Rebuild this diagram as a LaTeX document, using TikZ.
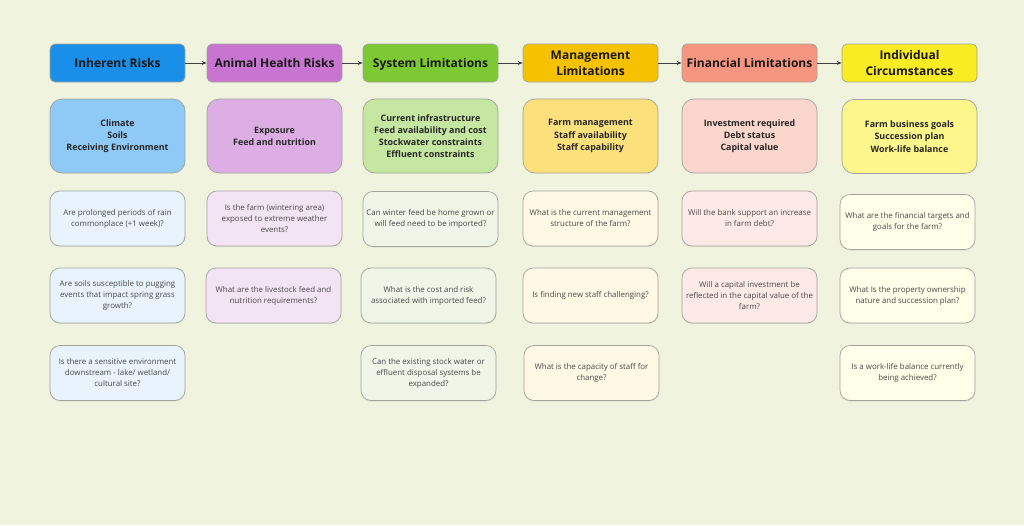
\documentclass[tikz,border=0pt]{standalone}
\usepackage{fontspec}
\setmainfont{Open Sans}
\usetikzlibrary{arrows.meta,shadows}
\definecolor{bg}{HTML}{F0F4DF}
\definecolor{bord}{HTML}{A3A39B}
\definecolor{hA}{HTML}{1A8FEA}
\definecolor{hB}{HTML}{C775D0}
\definecolor{hC}{HTML}{7DC933}
\definecolor{hD}{HTML}{F6C200}
\definecolor{hE}{HTML}{F69680}
\definecolor{hF}{HTML}{FAEC22}
\definecolor{sA}{HTML}{8FC9F6}
\definecolor{sB}{HTML}{DDAEE3}
\definecolor{sC}{HTML}{C6E7A2}
\definecolor{sD}{HTML}{FCE07C}
\definecolor{sE}{HTML}{FBD6CD}
\definecolor{sF}{HTML}{FCF68C}
\definecolor{qA}{HTML}{E8F3FD}
\definecolor{qB}{HTML}{F3E4F5}
\definecolor{qC}{HTML}{EFF6E8}
\definecolor{qD}{HTML}{FEF8E5}
\definecolor{qE}{HTML}{FDEAE6}
\definecolor{qF}{HTML}{FEFEE9}
\definecolor{qtext}{HTML}{4A4A4A}
\tikzset{
  hdr/.style={draw=bord, line width=0.7pt, rounded corners=5pt, minimum width=135pt, minimum height=38pt,
    inner sep=2pt, align=center, font=\fontsize{12}{16}\selectfont\bfseries, text=black!90},
  oneline/.style={text height=8.8pt, text depth=0pt},
  sub/.style={draw=bord, line width=0.7pt, rounded corners=12pt, minimum width=135pt, minimum height=74pt,
    inner sep=2pt, align=center, font=\fontsize{8.9}{12.2}\selectfont\bfseries, text=black!85},
  qbox/.style={draw=bord, line width=0.7pt, rounded corners=10pt, minimum width=135pt, minimum height=55pt,
    inner sep=2pt, align=center, font=\fontsize{7.9}{11}\selectfont, text=qtext,
    drop shadow={shadow xshift=0pt, shadow yshift=-1pt, opacity=0.15}},
  flow/.style={-{Stealth[length=5pt,width=4pt]}, line width=0.8pt, draw=black!75}
}
\begin{document}
\begin{tikzpicture}[x=1pt,y=-1pt]
\fill[bg] (0,0) rectangle (1024,525);
\useasboundingbox (0,0) rectangle (1024,525);
% headers
\node[hdr, oneline, fill=hA] (h1) at (117.5,63) {Inherent Risks};
\node[hdr, oneline, fill=hB] (h2) at (274.5,63) {Animal Health Risks};
\node[hdr, oneline, fill=hC] (h3) at (430.5,63) {System Limitations};
\node[hdr, fill=hD] (h4) at (590.5,63) {Management\\Limitations};
\node[hdr, oneline, fill=hE] (h5) at (749.5,63) {Financial Limitations};
\node[hdr, fill=hF] (h6) at (909.5,63) {Individual\\Circumstances};
\draw[flow] (h1) -- (h2);
\draw[flow] (h2) -- (h3);
\draw[flow] (h3) -- (h4);
\draw[flow] (h4) -- (h5);
\draw[flow] (h5) -- (h6);
% sub boxes
\node[sub, fill=sA] (s1) at (117.5,136) {Climate\\Soils\\Receiving Environment};
\node[sub, fill=sB] (s2) at (274.5,136) {Exposure\\Feed and nutrition};
\node[sub, fill=sC] (s3) at (430.5,136) {Current infrastructure\\Feed availability and cost\\Stockwater constraints\\Effluent constraints};
\node[sub, fill=sD] (s4) at (590.5,136) {Farm management\\Staff availability\\Staff capability};
\node[sub, fill=sE] (s5) at (749.5,136) {Investment required\\Debt status\\Capital value};
\node[sub, fill=sF] (s6) at (909.5,136.5) {Farm business goals\\Succession plan\\Work-life balance};
% questions column 1
\node[qbox, fill=qA] (q11) at (117.5,218.5) {Are prolonged periods of rain\\commonplace (+1 week)?};
\node[qbox, fill=qA] (q12) at (117.5,295.5) {Are soils susceptible to pugging\\events that impact spring grass\\growth?};
\node[qbox, fill=qA] (q13) at (117.5,373) {Is there a sensitive environment\\downstream - lake/ wetland/\\cultural site?};
% column 2
\node[qbox, fill=qB] (q21) at (274.5,218.5) {Is the farm (wintering area)\\exposed to extreme weather\\events?};
\node[qbox, fill=qB] (q22) at (273.5,295.5) {What are the livestock feed and\\nutrition requirements?};
% column 3
\node[qbox, fill=qC] (q31) at (430.5,219) {Can winter feed be home grown or\\will feed need to be imported?};
\node[qbox, fill=qC] (q32) at (428.5,295.5) {What is the cost and risk\\associated with imported feed?};
\node[qbox, fill=qC] (q33) at (428.5,373) {Can the existing stock water or\\effluent disposal systems be\\expanded?};
% column 4
\node[qbox, fill=qD] (q41) at (590.5,218.5) {What is the current management\\structure of the farm?};
\node[qbox, fill=qD] (q42) at (590.5,295.5) {Is finding new staff challenging?};
\node[qbox, fill=qD] (q43) at (591.5,373) {What is the capacity of staff for\\change?};
% column 5
\node[qbox, fill=qE] (q51) at (749.5,218.5) {Will the bank support an increase\\in farm debt?};
\node[qbox, fill=qE] (q52) at (749.5,295.5) {Will a capital investment be\\reflected in the capital value of the\\farm?};
% column 6
\node[qbox, fill=qF] (q61) at (907.5,222) {What are the financial targets and\\goals for the farm?};
\node[qbox, fill=qF] (q62) at (907.5,295.5) {What Is the property ownership\\nature and succession plan?};
\node[qbox, fill=qF] (q63) at (907.5,373) {Is a work-life balance currently\\being achieved?};
\end{tikzpicture}
\end{document}
